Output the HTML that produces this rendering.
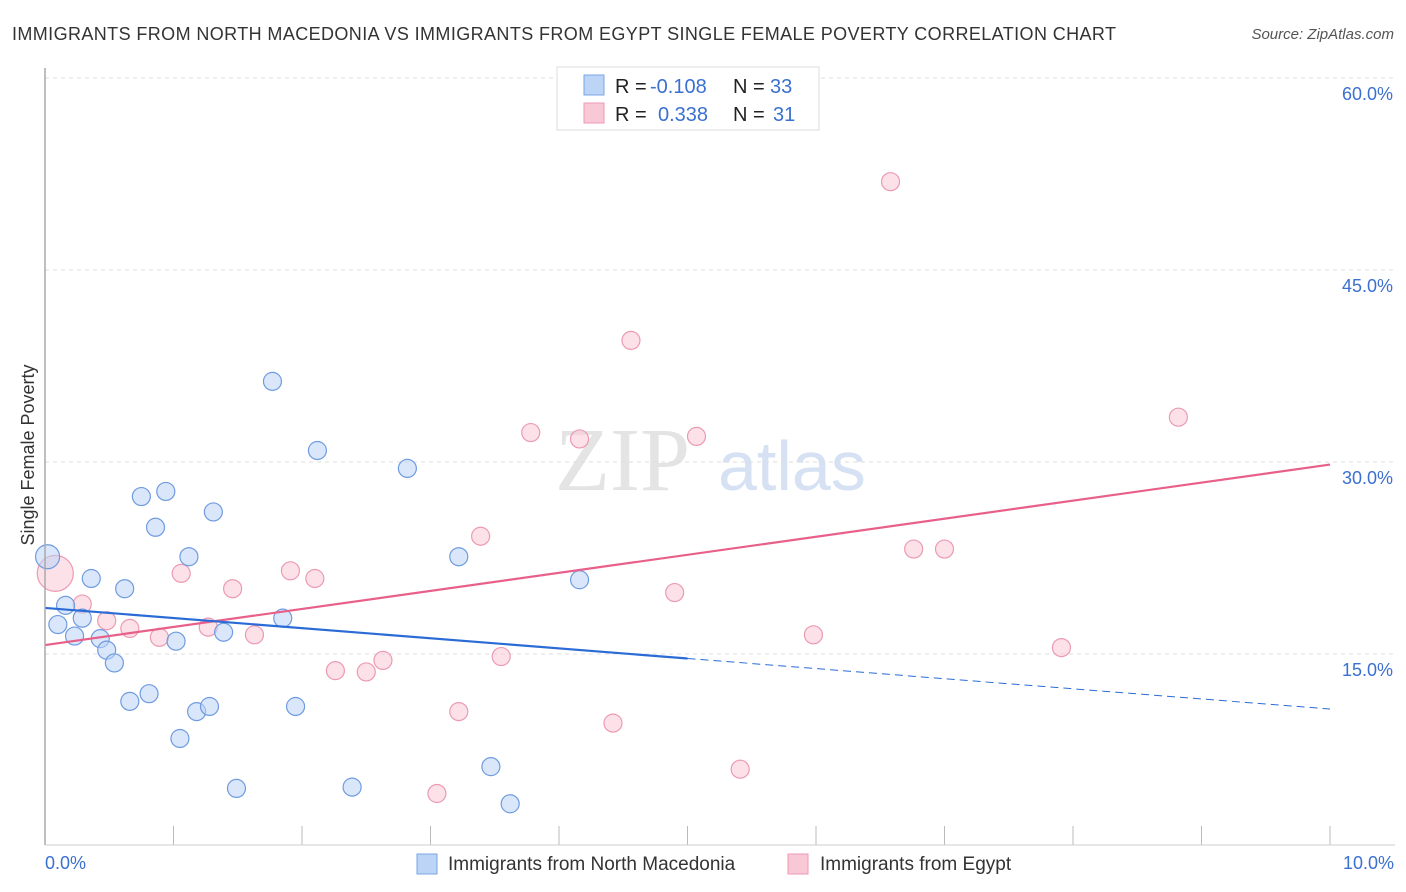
<!DOCTYPE html>
<html><head><meta charset="utf-8"><style>
body{margin:0;background:#fff;font-family:"Liberation Sans",sans-serif;}
svg{display:block}
</style></head><body>
<svg width="1406" height="892" id="chart">
<text x="12" y="40" font-size="18" fill="#333" textLength="1104" lengthAdjust="spacing">IMMIGRANTS FROM NORTH MACEDONIA VS IMMIGRANTS FROM EGYPT SINGLE FEMALE POVERTY CORRELATION CHART</text>
<text x="1394" y="39" font-size="15" fill="#555" font-style="italic" text-anchor="end">Source: ZipAtlas.com</text>
<text x="34" y="455" font-size="18" fill="#333" transform="rotate(-90 34 455)" text-anchor="middle">Single Female Poverty</text>
<text x="555" y="490" font-size="90" fill="#e4e4e4" font-family="Liberation Serif,serif">ZIP</text>
<text x="718" y="490" font-size="70" fill="#d6e2f3">atlas</text>
<g id="grid"></g>
<g id="marks"></g>
<line x1="45" y1="68" x2="45" y2="845" stroke="#aaa" stroke-width="1.5"/>
<line x1="45" y1="845" x2="1395" y2="845" stroke="#ccc" stroke-width="1"/>
<text x="45" y="869" font-size="18" fill="#3a70d0">0.0%</text>
<text x="1394" y="869" font-size="18" fill="#3a70d0" text-anchor="end">10.0%</text>
<g>
<rect x="417" y="854" width="20" height="20" fill="#bcd4f6" stroke="#7aa6e6"/>
<text x="448" y="870" font-size="19" fill="#333">Immigrants from North Macedonia</text>
<rect x="788" y="854" width="20" height="20" fill="#f9c8d6" stroke="#ef9ab5"/>
<text x="820" y="870" font-size="19" fill="#333">Immigrants from Egypt</text>
</g>
<g>
<rect x="557" y="67" width="262" height="63" fill="#fff" stroke="#ddd"/>
<rect x="584" y="75" width="20" height="20" fill="#bcd4f6" stroke="#7aa6e6"/>
<text x="615" y="93" font-size="20" fill="#222">R = <tspan x="650" fill="#3a70d0">-0.108</tspan><tspan x="733">N = </tspan><tspan x="770" fill="#3a70d0">33</tspan></text>
<rect x="584" y="103" width="20" height="20" fill="#f9c8d6" stroke="#ef9ab5"/>
<text x="615" y="121" font-size="20" fill="#222">R = <tspan x="658" fill="#3a70d0">0.338</tspan><tspan x="733">N = </tspan><tspan x="773" fill="#3a70d0">31</tspan></text>
</g>
</svg>
<script>
const yTicks=[15,30,45,60];
const yTickLabels=["15.0%","30.0%","45.0%","60.0%"];
const xTicks=[0,1,2,3,4,5,6,7,8,9,10];
const blueX=[0.02,0.16,0.10,0.23,0.29,0.36,0.43,0.48,0.54,0.62,0.66,0.75,0.81,0.86,0.94,1.02,1.05,1.12,1.18,1.28,1.31,1.39,1.49,1.77,1.85,1.95,2.12,2.39,2.82,3.22,3.47,3.62,4.16];
const blueY=[22.6,18.8,17.3,16.4,17.8,20.9,16.2,15.3,14.3,20.1,11.3,27.3,11.9,24.9,27.7,16.0,8.4,22.6,10.5,10.9,26.1,16.7,4.5,36.3,17.8,10.9,30.9,4.6,29.5,22.6,6.2,3.3,20.8];
const pinkX=[0.08,0.29,0.48,0.66,0.89,1.06,1.27,1.46,1.63,1.91,2.10,2.26,2.50,2.63,3.05,3.22,3.39,3.55,3.78,4.16,4.42,4.56,4.90,5.07,5.41,5.98,6.58,6.76,7.00,7.91,8.82];
const pinkY=[21.3,18.9,17.6,17.0,16.3,21.3,17.1,20.1,16.5,21.5,20.9,13.7,13.6,14.5,4.1,10.5,24.2,14.8,32.3,31.8,9.6,39.5,19.8,32.0,6.0,16.5,51.9,23.2,23.2,15.5,33.5];
const blueTrend=[18.6,10.7];
const pinkTrend=[15.7,29.8];
const X=v=>45+v*128.5, Y=v=>846-v*12.8;
const NS="http://www.w3.org/2000/svg";
const grid=document.getElementById('grid'), marks=document.getElementById('marks');
function mk(tag,attrs,parent){const e=document.createElementNS(NS,tag);for(const k in attrs)e.setAttribute(k,attrs[k]);parent.appendChild(e);return e;}
yTicks.forEach((t,i)=>{
 const l=mk('line',{x1:45,x2:1395,y1:Y(t),y2:Y(t),stroke:'#ddd','stroke-dasharray':'4,4'},grid);
 
 
 const tx=mk('text',{x:1393,y:Y(t)+22,'font-size':18,fill:'#3a70d0','text-anchor':'end'},grid);
 tx.textContent=yTickLabels[i];
 
 
});
xTicks.forEach(t=>{
 const l=mk('line',{x1:X(t),x2:X(t),y1:826,y2:845,stroke:'#bbb'},grid);
 
 
});
function pts(xs,ys,fill,stroke,name,bigR){
 xs.forEach((x,i)=>{
  const c=mk('circle',{cx:X(x),cy:Y(ys[i]),r:i===0?bigR:9,fill:fill,'fill-opacity':0.55,stroke:stroke,'stroke-width':1.2},marks);
  
  
 });
}
pts(pinkX,pinkY,'#f9c8d6','#ec9ab3','point-egypt',18);
pts(blueX,blueY,'#bcd4f6','#6f9be0','point-macedonia',12);
let l=mk('line',{x1:X(0),y1:Y(pinkTrend[0]),x2:X(10),y2:Y(pinkTrend[1]),stroke:'#e8608a','stroke-width':2.2},marks);


const bm=(blueTrend[0]+blueTrend[1])/2;
l=mk('line',{x1:X(0),y1:Y(blueTrend[0]),x2:X(5),y2:Y(bm),stroke:'#2a6bd6','stroke-width':2.2},marks);


l=mk('line',{x1:X(5),y1:Y(bm),x2:X(10),y2:Y(blueTrend[1]),stroke:'#2a6bd6','stroke-width':1,'stroke-dasharray':'8,5'},marks);


</script>
</body></html>
